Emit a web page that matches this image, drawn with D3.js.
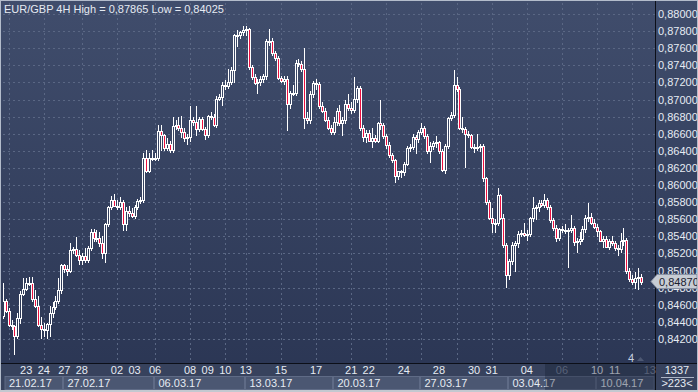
<!DOCTYPE html>
<html><head><meta charset="utf-8">
<script src="https://cdn.jsdelivr.net/npm/d3@7"></script>
<style>html,body{margin:0;padding:0;background:#2f3b57;overflow:hidden}text{font-family:"Liberation Sans Narrow","Liberation Sans",Arial,sans-serif}</style>
</head><body>
<svg id="c" width="698" height="392"></svg>
<script>
const opens=[.8447,.8464,.8453,.8436,.8435,.8424,.8444,.8473,.8479,.8485,
.8486,.8467,.8458,.8436,.8432,.8430,.8438,.8450,.8457,.8464,
.8477,.8506,.8502,.8500,.8524,.8525,.8518,.8512,.8517,.8512,
.8526,.8545,.8538,.8538,.8532,.8520,.8554,.8574,.8583,.8576,
.8574,.8580,.8555,.8570,.8567,.8564,.8574,.8581,.8582,.8632,
.8617,.8632,.8631,.8632,.8663,
.8658,.8643,.8648,.8641,.8669,.8670,.8667,.8662,.8655,.8656,
.8676,.8674,.8666,.8677,.8666,.8659,.8681,.8680,.8670,.8701,
.8703,.8717,.8716,.8721,.8734,.8775,.8775,.8779,.8781,.8782,
.8738,.8726,.8719,.8720,.8724,.8727,.8769,.8768,.8754,.8748,
.8725,.8722,.8724,.8695,.8708,.8708,.8743,.8742,.8736,.8678,
.8676,.8707,.8719,.8718,.8693,.8687,.8676,
.8667,.8662,.8674,.8687,.8673,.8676,.8695,.8690,.8688,.8701,
.8713,.8667,.8656,.8661,.8652,.8655,.8652,.8672,.8670,.8657,
.8647,.8635,.8629,.8611,.8616,.8615,.8625,.8643,.8645,.8656,
.8654,.8662,.8667,.8657,.8640,.8646,.8649,.8650,.8640,.8618,
.8646,.8678,.8682,.8717,.8712,.8667,.8665,.8660,.8658,.8644,
.8645,.8644,.8646,
.8608,.8580,.8561,.8556,.8556,.8588,.8562,.8530,.8495,.8511,
.8530,.8532,.8543,.8544,.8542,.8543,.8561,.8573,.8574,.8579,
.8577,.8582,.8574,.8559,.8550,.8538,.8549,.8548,.8546,.8548,
.8550,.8533,.8534,.8537,.8549,.8562,.8563,.8556,.8551,.8546,
.8535,.8537,.8528,.8535,.8532,.8526,.8525,.8535,.8536,.8500,
.8490,.8487,.8491,.8492];
const highs=[.8485,.8467,.8456,.8442,.8436,.8450,.8476,.8491,.8491,.8493,
.8493,.8477,.8470,.8446,.8439,.8439,.8459,.8463,.8470,.8491,
.8508,.8508,.8506,.8532,.8528,.8539,.8524,.8521,.8526,.8529,
.8549,.8549,.8547,.8545,.8541,.8556,.8576,.8587,.8590,.8582,
.8586,.8583,.8574,.8576,.8573,.8577,.8584,.8586,.8638,.8641,
.8638,.8641,.8638,.8670,.8670,
.8660,.8655,.8652,.8679,.8676,.8679,.8681,.8667,.8660,.8693,
.8680,.8693,.8679,.8680,.8668,.8682,.8685,.8683,.8704,.8706,
.8720,.8723,.8736,.8738,.8777,.8781,.8780,.87865,.8786,.8784,
.8740,.8730,.8724,.8728,.8730,.8771,.8783,.8772,.8757,.8751,
.8728,.8728,.8727,.8710,.8717,.8746,.8747,.8745,.8760,.8685,
.8710,.8722,.8724,.8720,.8697,.8690,.8680,
.8670,.8680,.8690,.8694,.8680,.8700,.8707,.8697,.8726,.8716,
.8716,.8670,.8664,.8664,.8667,.8658,.8674,.8699,.8673,.8660,
.8650,.8638,.8631,.8617,.8618,.8627,.8646,.8648,.8660,.8659,
.8664,.8672,.8669,.8660,.8650,.8651,.8657,.8652,.8642,.8648,
.8680,.8685,.8734,.8726,.8715,.8679,.8668,.8663,.8660,.8648,
.8660,.8648,.8648,
.8610,.8583,.8573,.8560,.8596,.8590,.8566,.8532,.8514,.8533,
.8535,.8546,.8547,.8556,.8547,.8563,.8586,.8577,.8582,.8582,
.8590,.8585,.8577,.8562,.8553,.8550,.8552,.8554,.8550,.8565,
.8552,.8538,.8545,.8552,.8565,.8579,.8567,.8560,.8554,.8548,
.8540,.8540,.8537,.8540,.8535,.8530,.8544,.8550,.8538,.8503,
.8495,.8498,.8503,.8496];
const lows=[.8444,.8451,.8435,.8432,.84025,.8421,.8439,.8471,.8477,.8483,
.8465,.8457,.8435,.8421,.8423,.8421,.8423,.8446,.8455,.8462,
.8474,.8498,.8495,.8498,.8520,.8517,.8508,.8508,.8510,.8510,
.8524,.8535,.8534,.8529,.8515,.8510,.8552,.8572,.8575,.8572,
.8572,.8547,.8548,.8564,.8563,.8562,.8572,.8579,.8580,.8615,
.8615,.8629,.8629,.8629,.8641,
.8641,.8641,.8639,.8639,.8665,.8664,.8656,.8652,.8648,.8652,
.8670,.8658,.8663,.8664,.8654,.8656,.8677,.8669,.8668,.8699,
.8694,.8712,.8714,.8718,.8720,.8763,.8772,.8775,.8776,.8736,
.8724,.8718,.8708,.8717,.8720,.8724,.8764,.8752,.8746,.8724,
.8720,.8718,.8664,.8690,.8705,.8705,.8739,.8733,.8667,.8673,
.8672,.8703,.8712,.8690,.8685,.8675,.8666,
.8660,.8660,.8670,.8670,.8658,.8672,.8688,.8684,.8685,.8697,
.8664,.8652,.8650,.8651,.8644,.8650,.8650,.8666,.8655,.8643,
.8633,.8627,.8603,.8607,.8609,.8612,.8623,.8640,.8642,.8638,
.8650,.8660,.8655,.8638,.8627,.8642,.8645,.8637,.8616,.8614,
.8643,.8676,.8680,.8710,.8665,.8662,.8621,.8656,.8643,.8639,
.8641,.8640,.8605,
.8578,.8560,.8545,.8545,.8553,.8560,.8528,.8481,.8490,.8508,
.8500,.8528,.8540,.8540,.8536,.8540,.8558,.8560,.8570,.8575,
.8574,.8572,.8557,.8548,.8535,.8536,.8545,.8544,.8504,.8545,
.8530,.8522,.8531,.8534,.8545,.8558,.8555,.8550,.8541,.8534,
.8527,.8527,.8525,.8530,.8524,.8518,.8522,.8530,.8497,.8488,
.8484,.8480,.8479,.8484];
const closes=[.8464,.8453,.8436,.8435,.8424,.8444,.8473,.8479,.8485,.8486,
.8467,.8458,.8436,.8432,.8430,.8438,.8450,.8457,.8464,.8477,
.8506,.8502,.8500,.8524,.8525,.8518,.8512,.8517,.8512,.8526,
.8545,.8538,.8538,.8532,.8520,.8554,.8574,.8583,.8576,.8574,
.8580,.8555,.8570,.8567,.8564,.8574,.8581,.8582,.8632,.8617,
.8632,.8631,.8632,.8663,.8658,
.8643,.8648,.8641,.8669,.8670,.8667,.8662,.8655,.8656,.8676,
.8674,.8666,.8677,.8666,.8659,.8681,.8680,.8670,.8701,.8703,
.8717,.8716,.8721,.8734,.8775,.8775,.8779,.8781,.8782,.8738,
.8726,.8719,.8720,.8724,.8727,.8769,.8768,.8754,.8748,.8725,
.8722,.8724,.8695,.8708,.8708,.8743,.8742,.8736,.8678,.8676,
.8707,.8719,.8718,.8693,.8687,.8676,.8667,
.8662,.8674,.8687,.8673,.8676,.8695,.8690,.8688,.8701,.8713,
.8667,.8656,.8661,.8652,.8655,.8652,.8672,.8670,.8657,.8647,
.8635,.8629,.8611,.8616,.8615,.8625,.8643,.8645,.8656,.8654,
.8662,.8667,.8657,.8640,.8646,.8649,.8650,.8640,.8618,.8646,
.8678,.8682,.8717,.8712,.8667,.8665,.8660,.8658,.8644,.8645,
.8644,.8646,.8608,
.8580,.8561,.8556,.8556,.8588,.8562,.8530,.8495,.8511,.8530,
.8532,.8543,.8544,.8542,.8543,.8561,.8573,.8574,.8579,.8577,
.8582,.8574,.8559,.8550,.8538,.8549,.8548,.8546,.8548,.8550,
.8533,.8534,.8537,.8549,.8562,.8563,.8556,.8551,.8546,.8535,
.8537,.8528,.8535,.8532,.8526,.8525,.8535,.8536,.8500,.8490,
.8487,.8491,.8492,.8487];
const priceTicks=[0.842,0.844,0.846,0.848,0.850,0.852,0.854,0.856,0.858,0.860,0.862,0.864,0.866,0.868,0.870,0.872,0.874,0.876,0.878,0.880];
// calendar: bar index (4H bars) where each labelled day starts
const dayLabels=["23","24","27","28","02","03","06","08","09","10","13","15","17","21","22","24","28","30","31","04","06","10","11","13"];
const dayBars=[8,14,21,27,39,45,52,64,70,76,83,95,107,119,125,137,149,161,167,179,191,203,209,221];
const dimDays=["06@191","13@221"];
const gridBars=[2,14,27,39,52,64,76,83,95,107,119,131,143,155,167,179,191,203,215];
const weekLabels=["21.02.17","27.02.17","06.03.17","13.03.17","20.03.17","27.03.17","03.04.17","10.04.17"];
const weekBars=[-1,21,52,83,113,143,173,203];
const title="EUR/GBP 4H High = 0,87865 Low = 0,84025";

const W=698,H=392,PL=3,PR=655,PT=3,PB=363;
const N=opens.length;
const svg=d3.select('#c');
const defs=svg.append('defs');
const gr=defs.append('linearGradient').attr('id','bg').attr('gradientUnits','userSpaceOnUse').attr('x1',0).attr('y1',0).attr('x2',0).attr('y2',H);
gr.append('stop').attr('offset',0).attr('stop-color','#404d6c');
gr.append('stop').attr('offset',1).attr('stop-color','#2a3553');
defs.append('clipPath').attr('id','clip').append('rect').attr('x',PL).attr('y',PT).attr('width',PR-PL).attr('height',PB-PT);
svg.append('rect').attr('width',W).attr('height',H).attr('fill','url(#bg)');

const y=d3.scaleLinear().domain([0.842,0.880]).range([339,14]);
const x=d3.scaleLinear().domain([0,N-1]).range([2.77,641]);
const fmt=v=>v.toFixed(5).replace('.',',');

const grid=svg.append('g').attr('stroke','#5a6784').attr('stroke-dasharray','2,3').attr('stroke-width',1);
grid.selectAll('line.h').data(priceTicks).join('line').attr('x1',PL).attr('x2',PR).attr('y1',d=>Math.round(y(d))+0.5).attr('y2',d=>Math.round(y(d))+0.5);
grid.selectAll('line.v').data(gridBars).join('line').attr('x1',d=>Math.round(x(d))+0.5).attr('x2',d=>Math.round(x(d))+0.5).attr('y1',PT).attr('y2',PB);

const data=opens.map((o,i)=>({i,o,h:highs[i],l:lows[i],c:closes[i]}));
const cg=svg.append('g').attr('clip-path','url(#clip)').attr('shape-rendering','crispEdges');
const k=cg.selectAll('g').data(data).join('g');
k.append('line').attr('x1',d=>Math.round(x(d.i))+0.5).attr('x2',d=>Math.round(x(d.i))+0.5)
 .attr('y1',d=>Math.round(y(d.h))).attr('y2',d=>Math.round(y(d.l))+1).attr('stroke','#ffffff');
k.append('rect').attr('x',d=>Math.round(x(d.i))-0.5).attr('width',2)
 .attr('y',d=>Math.round(y(Math.max(d.o,d.c)))+0.5)
 .attr('height',d=>Math.max(1,Math.round(y(Math.min(d.o,d.c)))-Math.round(y(Math.max(d.o,d.c)))))
 .attr('fill',d=>d.c<d.o?'#ec1040':'url(#bg)').attr('stroke','#ffffff');

svg.append('line').attr('x1',PR+0.5).attr('x2',PR+0.5).attr('y1',0).attr('y2',390).attr('stroke','#0c0f18');
svg.append('rect').attr('x',0).attr('y',PB).attr('width',W).attr('height',H-PB).attr('fill','#37425d');
svg.append('line').attr('x1',0).attr('x2',W).attr('y1',PB+0.5).attr('y2',PB+0.5).attr('stroke','#0c0f18');
svg.append('line').attr('x1',PR+0.5).attr('x2',PR+0.5).attr('y1',PB).attr('y2',390).attr('stroke','#0c0f18');
const wk=svg.append('g');
weekLabels.forEach((t,j)=>{
  const x0=j===0?5:Math.round(x(weekBars[j]))-0.5;
  const x1=j<weekLabels.length-1?Math.round(x(weekBars[j+1]))-1.5:PR-1;
  wk.append('rect').attr('x',x0).attr('y',376.5).attr('width',x1-x0).attr('height',13).attr('fill','#4b5772').attr('stroke','#5f6b86');
  wk.append('text').attr('x',x0+4).attr('y',387).attr('font-size',11).attr('fill','#e6ebf3').text(t);
});
svg.append('g').selectAll('text').data(dayLabels).join('text')
 .attr('x',(d,j)=>x(dayBars[j])).attr('y',374).attr('text-anchor','middle').attr('font-size',11)
 .attr('fill',(d,j)=>(dimDays.includes(d+'@'+dayBars[j]))?'#7c879e':'#e6ebf3').text(d=>d);
svg.append('rect').attr('x',545).attr('y',PB+1).attr('width',PR-545).attr('height',26).attr('fill','#141c30').attr('opacity',0.35);

svg.append('g').selectAll('text').data(priceTicks).join('text').attr('x',658).attr('y',d=>y(d)+4).attr('font-size',11).attr('fill','#e6ebf3').text(fmt);
const last=closes[N-1], yl=Math.round(y(last))-0.5;
svg.append('path').attr('d',`M651,${yl} L657,${yl-7} L697,${yl-7} L697,${yl+7} L657,${yl+7} Z`).attr('fill','#c7ccd4').attr('stroke','#8a93a5');
svg.append('text').attr('x',659).attr('y',yl+4).attr('font-size',11).attr('fill','#1b2130').text(fmt(last));

svg.append('text').attr('x',677).attr('y',374).attr('text-anchor','middle').attr('font-size',11).attr('fill','#e6ebf3').text('1337');
svg.append('line').attr('x1',661).attr('x2',694).attr('y1',377.5).attr('y2',377.5).attr('stroke','#aab3c4');
svg.append('text').attr('x',677).attr('y',387).attr('text-anchor','middle').attr('font-size',11).attr('fill','#e6ebf3').text('>223<');
svg.append('text').attr('x',631).attr('y',362).attr('text-anchor','middle').attr('font-size',11).attr('fill','#c9d1e0').text('4');
svg.append('path').attr('d','M637,361 L640.5,357 L644,361 Z').attr('fill','#4d5873');

svg.append('text').attr('x',4).attr('y',13).attr('font-size',11).attr('fill','#e6ebf3').text(title);
svg.append('rect').attr('x',0.5).attr('y',0.5).attr('width',W-1).attr('height',H-1).attr('fill','none').attr('stroke','#b3bccb');
svg.append('rect').attr('x',0).attr('y',390).attr('width',W).attr('height',2).attr('fill','#c3c8d0');
</script>
</body></html>
